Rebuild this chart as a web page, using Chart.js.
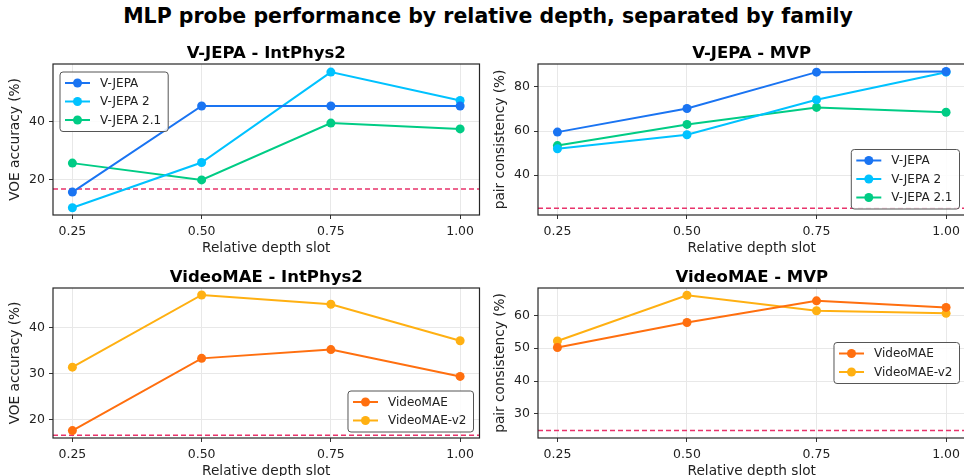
<!DOCTYPE html>
<html lang="en">
<head>
  <meta charset="UTF-8" />
  <title>MLP probe performance by relative depth</title>
  <script src="https://cdn.jsdelivr.net/npm/chart.js"></script>
  <style>
    html, body {
      margin: 0;
      padding: 0;
      background: #fff;
      overflow: hidden;
      width: 964px;
      height: 476px;
      font-family: 'DejaVu Sans', sans-serif;
    }
    .suptitle {
      position: absolute;
      left: 0;
      top: 4px;
      width: 976px;
      text-align: center;
      font-weight: bold;
      font-size: 20.5px;
      line-height: 24px;
      color: #000;
    }
    canvas {
      position: absolute;
    }
  </style>
</head>
<body>
  <div class="suptitle">MLP probe performance by relative depth, separated by family</div>
  <canvas id="p1" width="484" height="221" style="left:0px;top:36px;width:484px;height:221px"></canvas>
  <canvas id="p2" width="485" height="221" style="left:485px;top:36px;width:485px;height:221px"></canvas>
  <canvas id="p3" width="484" height="220" style="left:0px;top:260px;width:484px;height:220px"></canvas>
  <canvas id="p4" width="485" height="220" style="left:485px;top:260px;width:485px;height:220px"></canvas>

  <script>
    // valores
    const depthSlots = [0.25, 0.50, 0.75, 1.00];

    const vjepaIntphys = [15.6, 45.3, 45.3, 45.3];
    const vjepa2Intphys = [10.2, 25.8, 57.0, 47.2];
    const vjepa21Intphys = [25.6, 19.8, 39.4, 37.4];

    const vjepaMvp = [59.5, 70.2, 86.7, 87.0];
    const vjepa2Mvp = [51.9, 58.3, 74.2, 86.7];
    const vjepa21Mvp = [53.4, 63.0, 70.7, 68.5];

    const videomaeIntphys = [17.7, 33.3, 35.2, 29.4];
    const videomaev2Intphys = [31.4, 47.0, 45.0, 37.1];

    const videomaeMvp = [50.2, 57.8, 64.4, 62.4];
    const videomaev2Mvp = [52.2, 66.1, 61.4, 60.6];

    const intphysChance = 16.7;
    const mvpChance = 25;

    const ticksIntphysVjepa = [20, 40];
    const ticksMvpVjepa = [40, 60, 80];
    const ticksIntphysVideomae = [20, 30, 40];
    const ticksMvpVideomae = [30, 40, 50, 60];

    const cores = {
      vjepa: '#1a74f2',
      vjepa2: '#00c2ff',
      vjepa21: '#00cc85',
      videomae: '#ff6f0f',
      videomaev2: '#ffb012',
      chance: '#e8336b'
    };

    const FONT = "'DejaVu Sans', sans-serif";
    const X_MIN = 0.2125, X_MAX = 1.0375;

    // moldura, título do painel e legenda no estilo matplotlib
    const panelDecor = {
      id: 'panelDecor',
      afterDatasetsDraw(chart, args, opts) {
        const ctx = chart.ctx;
        const a = chart.chartArea;
        ctx.save();
        ctx.strokeStyle = '#262626';
        ctx.lineWidth = 1.2;
        ctx.strokeRect(a.left, a.top, a.right - a.left, a.bottom - a.top);

        ctx.fillStyle = '#000';
        ctx.font = 'bold 16.5px ' + FONT;
        ctx.textAlign = 'center';
        ctx.textBaseline = 'middle';
        ctx.fillText(opts.title, (a.left + a.right) / 2, a.top - 10.5);

        // legenda
        const items = chart.data.datasets.filter(d => !d.isChance);
        ctx.font = '12px ' + FONT;
        const maxW = Math.max(...items.map(d => ctx.measureText(d.label).width));
        const rowH = 18.5;
        const w = 40 + maxW + 7;
        const h = items.length * rowH + 4;
        let x, y;
        if (opts.legend === 'ul') {
          x = a.left + 7; y = a.top + 8;
        } else if (opts.legend === 'lr') {
          x = a.right - 6 - w; y = a.bottom - 6 - h;
        } else {
          x = a.right - 6 - w; y = (a.top + a.bottom) / 2 - h / 2;
        }
        ctx.beginPath();
        ctx.roundRect(x, y, w, h, 3);
        ctx.fillStyle = 'rgba(255,255,255,0.85)';
        ctx.fill();
        ctx.strokeStyle = '#555';
        ctx.lineWidth = 1;
        ctx.stroke();

        items.forEach((d, i) => {
          const cy = y + 11 + i * rowH;
          ctx.strokeStyle = d.borderColor;
          ctx.lineWidth = 2;
          ctx.beginPath();
          ctx.moveTo(x + 5, cy);
          ctx.lineTo(x + 30, cy);
          ctx.stroke();
          ctx.fillStyle = d.borderColor;
          ctx.beginPath();
          ctx.arc(x + 17.5, cy, 4.5, 0, Math.PI * 2);
          ctx.fill();
          ctx.fillStyle = '#222';
          ctx.textAlign = 'left';
          ctx.fillText(d.label, x + 40, cy + 0.5);
        });
        ctx.restore();
      }
    };

    function criarPainel(id, titulo, yLabel, series, chance, yMin, yMax, yTicks, legendPos, xAxisH) {
      const datasets = series.map(s => ({
        label: s.label,
        data: depthSlots.map((v, i) => ({ x: v, y: s.values[i] })),
        borderColor: s.color,
        backgroundColor: s.color,
        borderWidth: 2,
        pointRadius: 4.5,
        pointBorderWidth: 0,
        pointBackgroundColor: s.color,
        tension: 0
      }));
      datasets.push({
        label: 'chance',
        isChance: true,
        data: [{ x: X_MIN, y: chance }, { x: X_MAX, y: chance }],
        borderColor: cores.chance,
        borderWidth: 1.5,
        borderDash: [5, 3],
        pointRadius: 0
      });

      new Chart(document.getElementById(id).getContext('2d'), {
        type: 'line',
        data: { datasets: datasets },
        plugins: [panelDecor],
        options: {
          responsive: false,
          animation: false,
          devicePixelRatio: 1,
          layout: { padding: { top: 28, right: 3, left: 0, bottom: 0 } },
          plugins: {
            legend: { display: false },
            tooltip: { enabled: false },
            panelDecor: { title: titulo, legend: legendPos }
          },
          scales: {
            x: {
              type: 'linear',
              min: X_MIN,
              max: X_MAX,
              afterBuildTicks: sc => { sc.ticks = depthSlots.map(v => ({ value: v })); },
              afterFit: sc => { sc.height = xAxisH; },
              ticks: {
                callback: v => v.toFixed(2),
                font: { family: FONT, size: 12.5 },
                color: '#222',
                padding: 5,
                maxRotation: 0
              },
              grid: { color: '#e8e8e8', lineWidth: 1, drawTicks: true, tickLength: 4, tickColor: '#333' },
              border: { display: false },
              title: {
                display: true,
                text: 'Relative depth slot',
                font: { family: FONT, size: 13.7 },
                color: '#222',
                padding: { top: 0, bottom: 0 }
              }
            },
            y: {
              min: yMin,
              max: yMax,
              afterBuildTicks: sc => { sc.ticks = yTicks.map(v => ({ value: v })); },
              afterFit: sc => { sc.width = 53; },
              ticks: {
                callback: v => String(v),
                font: { family: FONT, size: 12.5 },
                color: '#222',
                padding: 4
              },
              grid: { color: '#e8e8e8', lineWidth: 1, drawTicks: true, tickLength: 4, tickColor: '#333' },
              border: { display: false },
              title: {
                display: true,
                text: yLabel,
                font: { family: FONT, size: 13.7 },
                color: '#222',
                padding: { top: 7, bottom: 0 }
              }
            }
          }
        }
      });
    }

    criarPainel('p1', 'V-JEPA - IntPhys2', 'VOE accuracy (%)', [
      { label: 'V-JEPA', values: vjepaIntphys, color: cores.vjepa },
      { label: 'V-JEPA 2', values: vjepa2Intphys, color: cores.vjepa2 },
      { label: 'V-JEPA 2.1', values: vjepa21Intphys, color: cores.vjepa21 }
    ], intphysChance, 7.7, 59.8, ticksIntphysVjepa, 'ul', 42);

    criarPainel('p2', 'V-JEPA - MVP', 'pair consistency (%)', [
      { label: 'V-JEPA', values: vjepaMvp, color: cores.vjepa },
      { label: 'V-JEPA 2', values: vjepa2Mvp, color: cores.vjepa2 },
      { label: 'V-JEPA 2.1', values: vjepa21Mvp, color: cores.vjepa21 }
    ], mvpChance, 21.9, 90.4, ticksMvpVjepa, 'lr', 42);

    criarPainel('p3', 'VideoMAE - IntPhys2', 'VOE accuracy (%)', [
      { label: 'VideoMAE', values: videomaeIntphys, color: cores.videomae },
      { label: 'VideoMAE-v2', values: videomaev2Intphys, color: cores.videomaev2 }
    ], intphysChance, 16.1, 48.5, ticksIntphysVideomae, 'lr', 42);

    criarPainel('p4', 'VideoMAE - MVP', 'pair consistency (%)', [
      { label: 'VideoMAE', values: videomaeMvp, color: cores.videomae },
      { label: 'VideoMAE-v2', values: videomaev2Mvp, color: cores.videomaev2 }
    ], mvpChance, 22.7, 68.3, ticksMvpVideomae, 'cr', 42);
  </script>
</body>
</html>
